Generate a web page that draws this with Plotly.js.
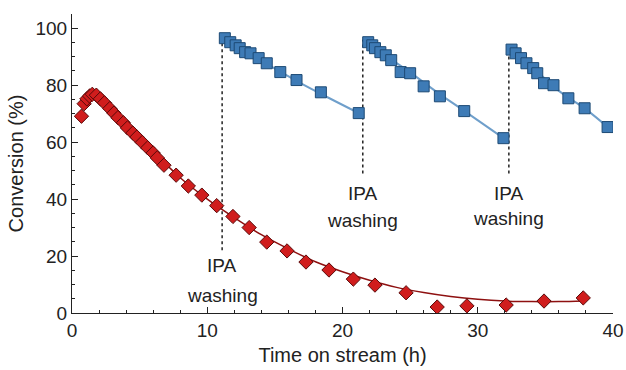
<!DOCTYPE html>
<html>
<head>
<meta charset="utf-8">
<script src="https://cdn.plot.ly/plotly-3.0.1.min.js"></script>
<style>html,body{margin:0;padding:0;background:#fff;}#chart{width:626px;height:370px;}</style>
</head>
<body>
<div id="chart"></div>
<script>
// Red series: original catalyst (Time on stream h, Conversion %)
const redT = [0.7,0.9,1.1,1.3,1.5,1.8,2.1,2.4,2.8,3.1,3.4,3.8,4.1,4.5,4.8,5.2,5.6,6.0,6.3,6.8,7.7,8.6,9.6,10.7,11.9,13.1,14.4,15.9,17.3,19.0,20.8,22.4,24.7,27.0,29.2,32.1,34.9,37.8];
const redC = [69.1,73.5,75.2,76.2,76.8,76.5,75.2,73.8,71.8,70.2,68.6,66.8,65.0,63.2,61.8,59.9,58.0,56.2,54.5,51.9,48.4,44.6,41.4,37.7,33.9,30.0,24.9,21.8,17.9,15.1,11.9,9.8,7.1,2.1,2.5,2.8,4.2,5.3];
const redFitT = [1.3,2,3,4,5,6,7,8,10,12,14,16,18,20,22,24,26,28,30,32,34,36,37.8];
const redFitC = [76.5,75.5,71.5,66.5,61.5,56.5,52,47.5,40,33.5,27.5,22.5,18,14.5,11.5,9,7.2,5.8,4.8,4.2,4,4,4.2];

// Blue series: after IPA washing, three cycles
const blue1T = [11.3,11.7,12.1,12.4,12.8,13.2,13.8,14.4,15.4,16.6,18.4,21.2];
const blue1C = [96.5,95.1,94.0,93.0,91.6,91.2,89.5,87.7,84.6,81.8,77.5,70.2];
const blue2T = [21.9,22.2,22.4,22.8,23.2,23.6,24.3,25.0,26.0,27.2,29.0,31.9];
const blue2C = [95.1,94.0,93.0,91.6,90.5,88.8,84.6,84.2,79.6,76.1,70.9,61.4];
const blue3T = [32.5,32.8,33.2,33.6,34.1,34.4,34.9,35.6,36.7,37.9,39.6];
const blue3C = [92.5,91.2,89.5,87.7,86.0,84.2,80.7,80.0,75.4,71.9,65.3];
const bfit1T = [11.2,13,15,17,19,21.2];
const bfit1C = [96.8,91.5,85.8,80.5,75.5,70.2];
const bfit2T = [21.7,23,25,27,29,31.9];
const bfit2C = [95.5,91,84.5,77.5,71,61.4];
const bfit3T = [32.3,34,36,38,39.6];
const bfit3C = [93.5,86.5,78,71.5,65.3];

// IPA washing events
const washT = [11.1, 21.5, 32.3];
const washTop = [97, 96, 93.5];
const washBottom = [22, 49, 49];
const labelIPA_Y = [16.8, 42.1, 42.1];
const labelWash_Y = [6.3, 32.6, 33.2];
const labelTop = "IPA";
const labelBottom = "washing";

const redLineColor = "#8e1010";
const redFill = "#d01d1d";
const redEdge = "#5a0a0a";
const blueLineColor = "#6f9fcb";
const blueFill = "#3e7bb6";
const blueEdge = "#1d4a75";

const traces = [];
function fitTrace(x, y, color, w){
  return {x:x, y:y, mode:'lines', type:'scatter', line:{color:color, width:w, shape:'spline'}, hoverinfo:'skip', showlegend:false};
}
traces.push(fitTrace(redFitT, redFitC, redLineColor, 1.5));
traces.push(fitTrace(bfit1T, bfit1C, blueLineColor, 2));
traces.push(fitTrace(bfit2T, bfit2C, blueLineColor, 2));
traces.push(fitTrace(bfit3T, bfit3C, blueLineColor, 2));
traces.push({x:redT, y:redC, mode:'markers', type:'scatter', showlegend:false,
  marker:{symbol:'diamond', size:11, color:redFill, line:{color:redEdge, width:1}}});
[[blue1T,blue1C],[blue2T,blue2C],[blue3T,blue3C]].forEach(function(s){
  traces.push({x:s[0], y:s[1], mode:'markers', type:'scatter', showlegend:false,
    marker:{symbol:'square', size:11, color:blueFill, line:{color:blueEdge, width:1}}});
});

const shapes = washT.map(function(t,i){
  return {type:'line', xref:'x', yref:'y', x0:t, x1:t, y0:washBottom[i], y1:washTop[i],
    line:{color:'#222', width:1.5, dash:'dot'}, layer:'below'};
});
const annFont = {family:'Liberation Sans, Arial, sans-serif', size:19, color:'#222'};
const annotations = [];
washT.forEach(function(t,i){
  annotations.push({x:t, y:labelIPA_Y[i], xref:'x', yref:'y', text:labelTop, showarrow:false, font:annFont, xanchor:'center', yanchor:'middle'});
  annotations.push({x:t, y:labelWash_Y[i], xref:'x', yref:'y', text:labelBottom, showarrow:false, font:annFont, xanchor:'center', yanchor:'middle'});
});

const axFont = {family:'Liberation Sans, Arial, sans-serif', size:19, color:'#222'};
const titleFont = {family:'Liberation Sans, Arial, sans-serif', size:20, color:'#222'};
const layout = {
  width:626, height:370,
  margin:{l:72, r:13, t:14, b:57},
  paper_bgcolor:'#fff', plot_bgcolor:'#fff',
  showlegend:false,
  font:axFont,
  xaxis:{range:[0,40], tickmode:'linear', tick0:0, dtick:10, ticks:'inside', ticklen:6, tickwidth:1, tickcolor:'#222',
    showline:true, linecolor:'#222', linewidth:1, showgrid:false, zeroline:false, tickfont:axFont,
    minor:{tickmode:'linear', tick0:0, dtick:2, ticks:'inside', ticklen:3, tickcolor:'#222', showgrid:false},
    title:{text:'Time on stream (h)', font:titleFont, standoff:8}},
  yaxis:{range:[0,105], tickmode:'linear', tick0:0, dtick:20, ticks:'inside', ticklen:6, tickwidth:1, tickcolor:'#222',
    showline:true, linecolor:'#222', linewidth:1, showgrid:false, zeroline:false, tickfont:axFont,
    minor:{tickmode:'linear', tick0:0, dtick:5, ticks:'inside', ticklen:3, tickcolor:'#222', showgrid:false},
    title:{text:'Conversion (%)', font:titleFont, standoff:6}},
  shapes:shapes,
  annotations:annotations
};
Plotly.newPlot('chart', traces, layout, {displayModeBar:false, staticPlot:true});
</script>
</body>
</html>
